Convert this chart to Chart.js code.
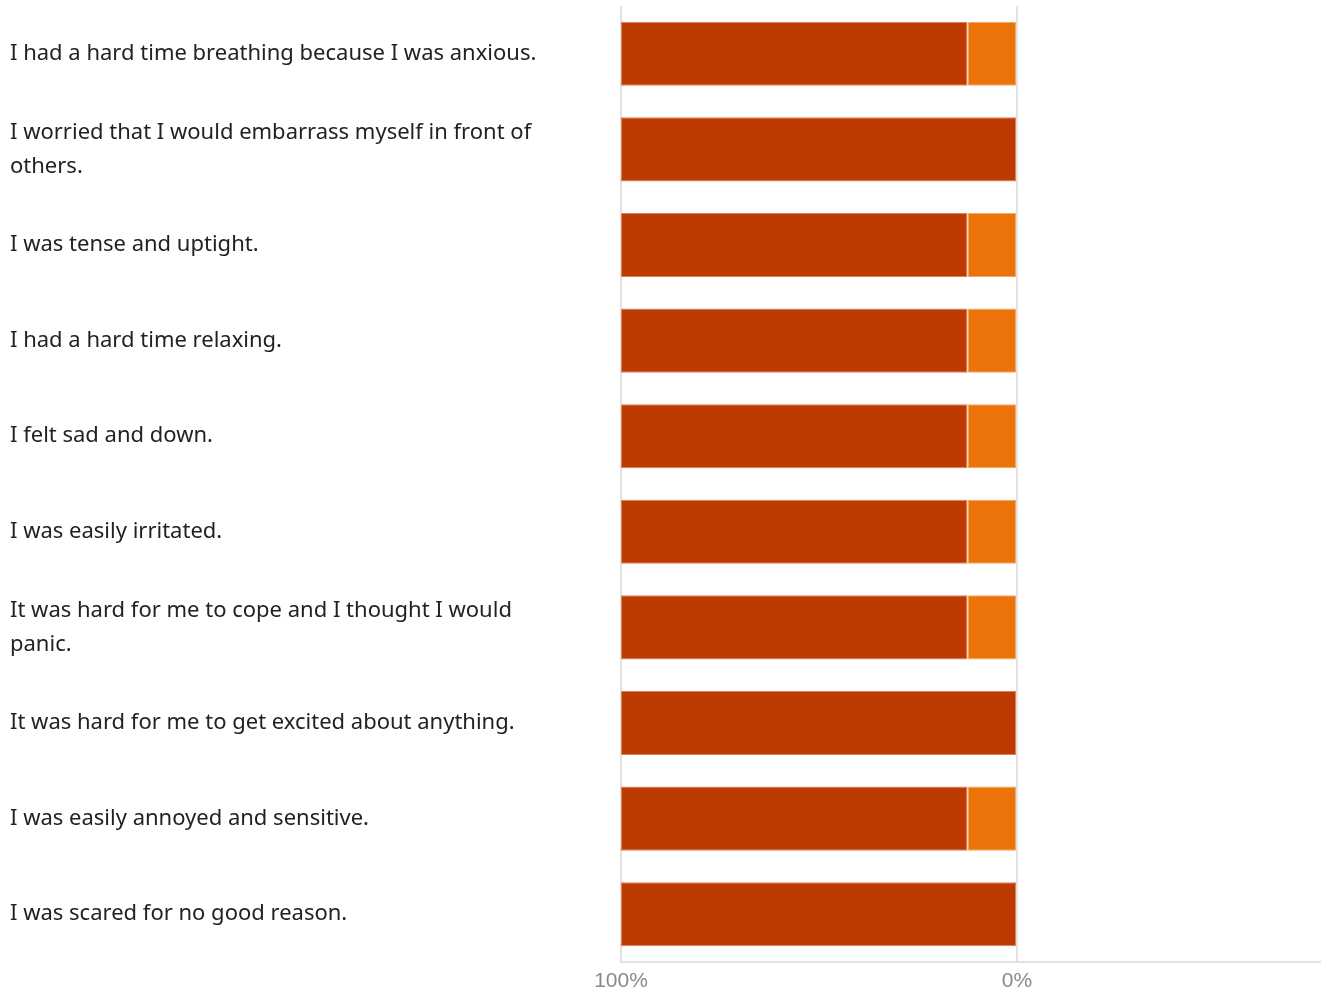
<!DOCTYPE html>
<html>
<head>
<meta charset="utf-8">
<script src="https://cdn.jsdelivr.net/npm/chart.js@4"></script>
<style>
  html, body { margin: 0; padding: 0; background: #fff; }
  #wrap { width: 1327px; height: 996px; }
</style>
</head>
<body>
<div id="wrap"><canvas id="surveyChart"></canvas></div>
<script>
const questions = [
    'I had a hard time breathing because I was anxious.',
    ['I worried that I would embarrass myself in front of', 'others.'],
    'I was tense and uptight.',
    'I had a hard time relaxing.',
    'I felt sad and down.',
    'I was easily irritated.',
    ['It was hard for me to cope and I thought I would', 'panic.'],
    'It was hard for me to get excited about anything.',
    'I was easily annoyed and sensitive.',
    'I was scared for no good reason.'
];
const mostOften = [87.5, 100, 87.5, 87.5, 87.5, 87.5, 87.5, 100, 87.5, 100];
const sometimes = [12.5, 0, 12.5, 12.5, 12.5, 12.5, 12.5, 0, 12.5, 0];
const tickValues = [100, 0];

const ctx = document.getElementById('surveyChart').getContext('2d');
const chart = new Chart(ctx, {
    type: 'bar',
    data: {
        labels: questions,
        datasets: [
            {
                label: 'sometimes',
                data: sometimes,
                backgroundColor: '#ec730a',
                borderColor: '#f3a866',
                borderWidth: 1,
                borderSkipped: false
            },
            {
                label: 'most often',
                data: mostOften,
                backgroundColor: '#bd3a00',
                borderColor: '#d9835c',
                borderWidth: 1,
                borderSkipped: false
            }
        ]
    },
    options: {
        indexAxis: 'y',
        responsive: true,
        maintainAspectRatio: false,
        animation: false,
        layout: { padding: { left: 10, right: 7, top: 6, bottom: 2 } },
        datasets: { bar: { categoryPercentage: 1, barPercentage: 0.67 } },
        plugins: { legend: { display: false }, tooltip: { enabled: false } },
        scales: {
            x: {
                stacked: true,
                reverse: true,
                min: -76.5,
                max: 100,
                afterBuildTicks: scale => { scale.ticks = tickValues.map(v => ({ value: v })); },
                afterFit: scale => {
                    scale.height = 32;
                    scale.paddingLeft = 0;
                    scale.paddingRight = 0;
                },
                grid: { color: '#e2e2e2', lineWidth: 2, drawTicks: false },
                border: { color: '#e2e2e2', width: 2 },
                ticks: {
                    padding: 7,
                    color: '#8a8a8a',
                    font: { family: 'Liberation Sans', size: 21 },
                    maxRotation: 0,
                    callback: v => v + '%'
                }
            },
            y: {
                stacked: true,
                afterFit: scale => {
                    scale.width = 611;
                    scale.paddingTop = 0;
                    scale.paddingBottom = 0;
                },
                grid: { display: false },
                border: { display: false },
                ticks: {
                    crossAlign: 'far',
                    color: '#222222',
                    font: { family: 'Noto Sans', size: 22, lineHeight: 1.55 }
                }
            }
        }
    }
});
</script>
</body>
</html>
